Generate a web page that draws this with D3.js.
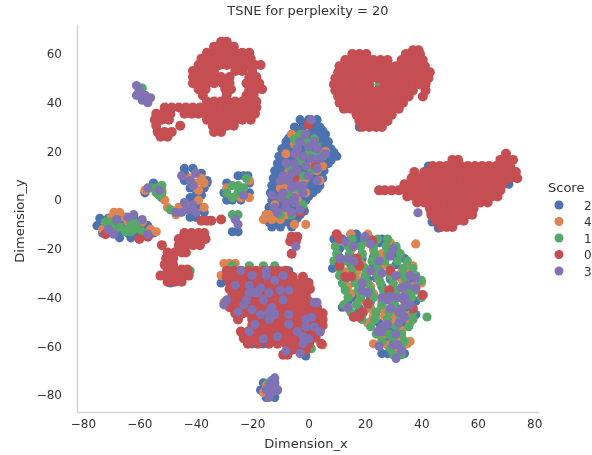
<!DOCTYPE html>
<html><head><meta charset="utf-8">
<script src="https://cdnjs.cloudflare.com/ajax/libs/d3/7.8.5/d3.min.js"></script>
<style>html,body{margin:0;padding:0;background:#fff;overflow:hidden}svg{display:block;filter:blur(0.45px)}text{font-family:"DejaVu Sans",sans-serif;fill:#333}</style>
</head><body><div id="chart"></div>
<script>
const legendOrder = ["2","4","1","0","3"];
const colors = ["#4c72b0","#dd8452","#55a868","#c44e52","#8172b3"];
const xTicks = [-80,-60,-40,-20,0,20,40,60,80];
const yTicks = [-80,-60,-40,-20,0,20,40,60];

// Each row: [y, [x, x, ...]]
const score2Rows = [
 [33,[-3,0,3]],[31.5,[-1.5,1.5]],[30,[-5,-2,1,4]],[28.5,[-3.5,2.5,5]],[27,[-6,-3,0,3,6]],[25.5,[-7,-4,-1,2,5]],[24,[-8,-5,-2,1,4,7]],[22.5,[-8,-5,-2,1,4,6.5]],[21,[-9.5,-6.5,-3.5,-.5,2.5,5.5,8]],[19.5,[-9,-6,-3,0,3,6,9]],[18,[-10.5,-7.5,-4.5,-1.5,1.5,4.5,7.5,10]],[16.5,[-10,-7,-4,-1,2,5,8]],[15,[-11,-8,-5,-2,1,4,7]],[13.5,[-10,-7,-4,-1,2,5]],[12,[-12,-9,-6,-3,0,3,5.5]],[10.5,[-11,-8,-5,-2,1,4]],[9,[-12.5,-9.5,-6.5,-3.5,-.5,2.5,5]],[7.5,[-11,-8,-5,-2,1,3.5]],[6,[-13,-10,-7,-4,-1,2,4]],[4.5,[-12,-9,-6,-3,0,3]],[3,[-13.5,-10.5,-7.5,-4.5,-1.5,1.5]],[1.5,[-12,-9,-6,-3,0]],[0,[-13,-10,-7,-4,-1]],[-1.5,[-12,-9,-6,-3]],[-3,[-14,-11,-8,-5,-2]],[-4.5,[-13,-10,-7,-4,-1.5]],[-6,[-15,-12,-9,-6,-3]],[-7.5,[-13,-10,-7,-4]],[-9,[-14,-11,-8,-5]],[-11,[-13,-10,-6]],
 [-7.5,[-74,-71,-65,-68,-62]],[-10.5,[-75,-72,-66,-60,-69,-63,-57]],[-13.5,[-73,-70,-64,-58,-55,-67,-61]],[-15.5,[-67,-63,-60]],
 [13,[-44,-41]],[11,[-44,-38]],[8,[-44,-36]],[5,[-42,-37]],[2,[-40,-38]],[-2,[-39]],[1,[-42]],[-5,[-40,-37]],[-7,[-42,-40]],
 [10,[-25,-23,-21.5]],[7,[-21,-29]],[3,[-30,-21]],[0,[-29,-27,-24]],[-13,[-25,-27]],
 [-14,[15,17]],[-16,[9,12,15,18,22,26]],[-20,[28,31,11]],[-24,[14,19,34]],[-28,[8.5,25,36]],[-32,[20,24,29]],[-36,[13,33,38]],[-40,[16,22]],[-44,[12,26,30]],[-50,[35,22]],[-54,[32,27]],[-58,[27,33]],[-63,[26,28,31,34]],[-47,[38,17]],
 [-17.5,[17,25]],[-23.5,[11,23,31]],[-26.5,[15,23,31]],[-32.5,[13,21,29,37]],[-35.5,[18,26,34]],[-41.5,[14,22,30,38]],[-44.5,[18,34]],[-50.5,[25,33]],[-53.5,[29]],[-56.5,[30]],[-59.5,[32]],[-62.5,[29]],
 [-29,[-29,-25,-12,-9,-7]],[-34,[-31]],[-59,[-20,-16,-4]],[-64,[-1]],[-47,[-15]],[-55,[-12]],
 [-78,[-17,-15,-11]],[-75,[-16,-12]],[-81,[-15,-12]]
];
const score2Extra = [[-58,43],[-49,-34],[18,30],[35.5,43],[40,1],[42.5,14],[71,6.5],[43.8,-9],[46,-11.5],[-55,7],[-58,3],[-52,1],[-44,-3],[-36,7]];

const score4Rows = [
 [27,[-6,-2]],[25,[2]],[23,[-5,0]],[20,[6]],[19,[-8,3]],[17,[-3]],[14,[5,1]],[12,[-7,3]],[9,[-1]],[8,[4,-3]],[6,[-6]],[5,[-10,-8]],[3,[-5,-1]],[0,[-4]],[-2,[-12,-3]],[-4,[-8]],[-6,[-15,-14,-8]],[-8,[-16,-13,-10]],[-10,[-5,-1]],
 [-5,[-69,-67]],[-7,[-70,-65]],[-9,[-64,-59]],[-12,[-73,-71,-62,-56]],[-13,[-54,-69]],
 [9,[-42,-38]],[7,[-40,-37]],[4,[-39]],[0,[-39]],[-3,[-50,-46,-37]],[-6,[-47]],
 [8,[-21]],[5,[-29]],[1,[-24,-21]],
 [-26,[-30,-28,-26]],[-31,[-31]],[-37,[-24]],[-42,[-30]],[-55,[-14,-9]],[-57,[-23]],[-48,[-3]],[-52,[2]],[-59.5,[5]],
 [-79,[-16]],[-76,[-15]],
 [-14,[21,15]],[-18,[14,38]],[-22,[26,19]],[-27,[37]],[-28,[20]],[-30,[35,24]],[-34,[17,40]],[-40,[29]],[-47,[19]],[-48,[24,30]],[-55,[26]],[-58,[36]],[-59,[23,35]],
 [-17.5,[13,21,29]],[-20.5,[15,23]],[-23.5,[15,27]],[-26.5,[11,19,27,35]],[-29.5,[13,17,21,29,33]],[-32.5,[17,25,33]],[-35.5,[14,22,30,37]],[-38.5,[15,19,23,27,31,35]],[-41.5,[18,26,34]],[-44.5,[14,22,26,30]],[-47.5,[23,27,35]],[-50.5,[21,29,36]],[-53.5,[25,33]],[-56.5,[26,33]],[-59.5,[28]],[-62.5,[32]]
];
const score4Extra = [[9.5,47.8],[41.5,55],[13.6,37.5],[50,-1],[-58,4],[-51,0],[-52,4]];

const score1Rows = [
 [27,[-3]],[25,[-5,2]],[24,[-1]],[22,[-4,3]],[19,[0]],[18,[3,5]],[16,[-3]],[14,[-7]],[12,[1]],[10,[-2]],[5,[-4]],[2,[-7]],[-2,[-2]],[-6,[-10,-6]],
 [-9,[-72,-70,-62]],[-11,[-67,-61,-70]],[-13,[-65,-63,-59,-69]],[-12,[-64,-62]],[-10,[-63]],
 [5,[-54,-56]],[3,[-54,-52]],[2,[-53]],[6,[-52]],
 [-4,[-49]],[6,[-25,-27]],[5,[-23]],[9,[-22]],[3,[-25,-29]],[1,[-27]],[-6,[-27,-25]],
 [-27,[-27,-21,-16,-12]],[-35,[-22]],[-37,[-13]],[-48,[-19]],[-47,[-11]],[-42,[-2]],[-34,[0]],[-50,[4,-7]],[-53,[-15]],[-56,[-21,-20]],[-61,[1]],
 [-16,[11,15.5,20,24.5,28]],[-19,[9.5,14,18.5,23,27.5,31]],[-22,[10,14.5,19,23.5,28,32.5]],[-25,[9,13.5,18,22.5,27,31.5,35]],[-28,[11,15.5,20,24.5,29,33.5,37]],[-31,[11,15.5,20,24.5,29,33.5,38]],[-34,[12,16.5,21,25.5,30,34.5]],[-37,[13,17.5,22,26.5,31,35.5,38]],[-40,[14,18.5,23,27.5,32,36.5,40]],[-43,[12.5,17,21.5,26,30.5,35]],[-46,[15,19.5,24,28.5,33,37]],[-49,[19,23.5,28,32.5,37]],[-52,[22,26.5,31,35.5]],[-55,[24,28.5,33]],[-58,[26,30,34]],[-61,[29,33]],[-63.5,[30,33]],
 [-33,[40]],[-48,[42]]
];
const score1Extra = [[-59,46],[-42,-29],[-14,-75],[25,47.5],[43.8,-2.5]];

const score0Rows = [
 // upper-left mass
 [65,[-31,-29]],[63,[-33.5,-31,-28.5,-26.5]],[60.5,[-36,-33.5,-31,-28.5,-26,-23.5,-21]],[58,[-38,-35.5,-33,-30.5,-28,-25.5,-23,-20.5]],[55.5,[-39,-36.5,-34,-31.5,-29,-26.5,-24,-21.5,-19,-17]],[53,[-41,-38.5,-36,-33.5,-26,-23.5,-20]],[50.5,[-41,-38.5,-36,-33.5,-31,-28,-21,-18.5]],[48,[-41,-38.5,-36,-33.5,-30.5,-28,-22,-19.5,-17.5]],[45.5,[-39,-36.5,-29.5,-27.5,-21,-18.5,-16.5]],[43,[-37.5,-29,-22,-19.5]],[40.5,[-36,-33.5,-31,-28.5,-26,-23.5,-21,-18.5]],[38,[-51,-48.5,-46,-43.5,-41,-38.5,-36,-33.5,-31,-28.5,-26,-23.5,-21,-18.5]],[35.5,[-54,-51.5,-49,-44,-41.5,-39,-36.5,-34,-31.5,-29,-26.5,-24,-21.5,-19]],[33,[-54.5,-52,-49.5,-36,-33.5,-31,-28.5,-26,-23.5,-20.5]],[30.5,[-54,-45.5,-34,-31.5,-29,-26.5]],[28,[-53.5,-51,-48.5,-33.5,-31]],[26,[-52.5,-50]],
 // upper-right heart
 [61.5,[37,39]],[60,[15.5,18,20.5,34.5,37,39.5]],[57.5,[13,15.5,18,20.5,23,25.5,28,33,35.5,38,40.5]],[55,[11,13.5,16,18.5,21,23.5,26,28.5,31,33.5,36,38.5,41]],[52.5,[10.5,13,15.5,18,20.5,23,25.5,28,30.5,33,35.5,38,40.5,43]],[50,[9.5,12,14.5,17,19.5,22,24.5,27,29.5,32,34.5,37,39.5,42.5]],[47.5,[9,11.5,14,16.5,19,21.5,27,29.5,32,34.5,37,39.5,41.5]],[45,[9.5,12,14.5,17,19.5,22,24.5,27,29.5,32,34.5,37,41.5]],[42.5,[10.5,13,15.5,18,20.5,23,25.5,28,30.5,33,35.5,40.5]],[40,[11,13.5,16,18.5,21,23.5,26,28.5,31,33.5]],[37.5,[12.5,15,17.5,20,22.5,25,27.5,30,32]],[35,[17,19.5,22,24.5,27,29.5]],[32.5,[18,20.5,23,25.5,28]],[30,[19,21.5,24,26]],
 // right mass
 [19,[70]],[16.5,[51,53,68,70.5,72.5]],[14,[44,46.5,49,51.5,54,56.5,59,61.5,64,66.5,69,71.5]],[11.5,[37.5,41,43.5,46,48.5,51,53.5,56,58.5,61,63.5,66,68.5,71,73.5]],[9,[36.5,39,41.5,44,46.5,49,51.5,54,56.5,59,61.5,64,66.5,69,71.5,74]],[6.5,[34,36.5,39,41.5,44,46.5,49,51.5,54,56.5,59,61.5,64,66.5,69]],[4,[25,27,29.5,32,34.5,37,39.5,42,44.5,47,49.5,52,54.5,57,59.5,62,64.5,67,68]],[1.5,[35,37.5,40,42.5,45,47.5,50,52.5,55,57.5,60,62.5,65,67]],[-1,[38.5,41,43.5,46,48.5,51,53.5,56,58.5,61,63.5]],[-3.5,[43,45.5,48,50.5,53,55.5,58.5]],[-6,[43.5,46,48.5,51,53.5,56,58]],[-8.5,[45,47.5,50,52.5,55]],[-11,[47,49,51]],
 // lower-left column
 [-8.5,[-38,-36,-34.5]],[-13.5,[-44,-41.5,-39,-37]],[-16,[-46,-43.5,-41,-38.5,-36.5]],[-18.5,[-52,-46,-43.5,-41,-38.5]],[-21.5,[-50,-47.5,-45,-43.5]],[-24,[-50.5,-48]],[-26.5,[-51,-48]],[-28.5,[-50,-47.5,-45,-43]],[-31,[-52.5,-50,-47.5,-45,-42.5]],[-33.5,[-50,-47.5,-45]],
 // lower mass
 [-29,[-29,-26.4,-23.8,-21.2,-18.6,-16,-13.4,-10.8,-8]],[-31.5,[-29,-26.4,-23.8,-21.2,-18.6,-16,-13.4,-10.8,-8.2,-5.6,-2]],[-34,[-28,-25.4,-22.8,-20.2,-17.6,-15,-12.4,-9.8,-7.2,-4.6,-2,0]],[-36.5,[-28,-25.4,-22.8,-20.2,-17.6,-15,-12.4,-9.8,-7.2,-4.6,-2,0.5]],[-39,[-27,-24.4,-21.8,-19.2,-16.6,-14,-11.4,-8.8,-6.2,-3.6,-1]],[-41.5,[-29,-26.4,-23.8,-21.2,-18.6,-16,-13.4,-10.8,-8.2,-5.6,-3,0]],[-44,[-28,-25.4,-22.8,-20.2,-17.6,-15,-12.4,-9.8,-7.2,-4.6,-2,1,3]],[-46.5,[-26,-23.4,-20.8,-18.2,-15.6,-13,-10.4,-7.8,-5.2,-2.6,0,2.6,5]],[-49,[-25,-20,-17.4,-14.8,-12.2,-9.6,-7,-4.4,-1.8,0.8,3.4,5]],[-51.5,[-20,-17.4,-14.8,-12.2,-9.6,-7,-4.4,-1.8,0.8,3.4,5]],[-54,[-24,-21.4,-18.8,-16.2,-13.6,-11,-8.4,-5.8,-3.2,-0.6,2,4]],[-56.5,[-23,-20.4,-17.8,-15.2,-12.6,-10,-7.4,-4.8,-2.2,0.4,2.5]],[-59,[-21.5,-18,-14,-11,-8,-5,-2.4,0.2]],[-61.5,[-6,-3.5,-1]],[-63.5,[-9,-7.5]],
 // right-lower scattered
 [-16.7,[22.5]],[-14,[10]],[-16,[11]],[-24,[17]],[-27,[11,18]],[-29,[29]],[-31.5,[13,15]],[-37,[28.6]],[-39,[40.5]],[-42.5,[21]],[-44.5,[37]],[-48,[18,16]],[-46,[19]],
 [-15,[-6,-4]],[-17,[-6.5,-4.5]],[-22,[-6]]
];
const score0Extra = [[-31,-8],[-72,-14],[-60,-16],[-57,-15],[4.5,-59],[0,31],[2.5,14],[-5,9],[-3,-5]];

const score3Rows = [
 [33,[1]],[27,[-1]],[24,[2,-3]],[22,[0]],[21,[-4,3]],[19,[-5,6]],[18,[-2]],[17,[1,4]],[15,[-5,-8]],[14,[-1]],[13,[3]],[12,[-4]],[11,[-6]],[10,[0,-9]],[8,[-7,-10,3]],[6,[-2,-4]],[5,[-6]],[3,[-2,-9]],[2,[-13]],[1,[-10,-5]],[-1,[-8,-5]],[-3,[-8,-12]],[-4,[-3]],[-5,[-11,-6]],
 [47,[-61]],[45,[-60]],[43,[-61,-58]],[41,[-59]],[42,[-56]],[40,[-57]],
 [-8,[-68,-59]],[-7,[-64]],[-6,[-62]],[-12,[-71]],[-14,[-57,-69]],
 [4,[-53]],[5,[-57]],[10,[-45]],[8,[-42]],[11,[-40]],[6,[-41]],[-5,[-47,-45,-40]],[-4,[-43]],[-2,[-41]],[-1,[-44]],
 [2,[-23]],[-8,[-26]],[-10,[-25]],[-19,[-4.5]],
 [-29,[-24,-15]],[-31,[-20,-15,-9]],[-33,[-12]],[-35,[-26,-21]],[-36,[-17]],[-37,[-10,-7]],[-38,[-18,-14,-19,-21]],[-41,[-29,-22,-16,-9]],[-43,[-30,-23]],[-44,[-13]],[-45,[-20]],[-46,[-25,-14]],[-47,[-17,-12,-7]],[-49,[-1,-14]],[-51,[-7,-19]],[-52,[-1,2]],[-54,[-21,-4,4]],[-56,[-11,-2]],[-57,[-16,0]],[-59,[-2]],[-62,[-8]],[-63,[-3]],[-42,[3,2]],[-48,[1]],
 [-73,[-12]],[-74,[-13]],[-76,[-14,-12]],[-78,[-15,-11,-13]],[-79,[-13]],[-81,[-14]],
 [-15,[20]],[-17,[13]],[-18,[22]],[-19,[16]],[-20,[30]],[-23,[29]],[-24,[11,14]],[-25,[16,25]],[-29,[22]],[-30,[26]],[-31,[31,36]],[-32,[38]],[-34,[19]],[-35,[35]],[-36,[33,38]],[-37,[19]],[-38,[21]],[-39.5,[28.7,34]],[-40,[26,31]],[-41,[28,34]],[-43,[36]],[-44.5,[33,29]],[-44,[14]],[-46,[32]],[-48,[34]],[-50.5,[32]],[-51,[28]],[-52,[26]],[-54,[24.6,26]],[-55,[31]],[-59.5,[31.6,30]],[-60,[25]],[-62,[33]],[-65,[31]]
];
const score3Extra = [[38.8,-5.2]];

const flatten = rows => rows.flatMap(([yv,xs])=>xs.map(xv=>[xv,yv]));
const seriesList = [
  flatten(score2Rows).concat(score2Extra),
  flatten(score4Rows).concat(score4Extra),
  flatten(score1Rows).concat(score1Extra),
  flatten(score0Rows).concat(score0Extra),
  flatten(score3Rows).concat(score3Extra)
];
const radii = [4.6,4.6,4.6,5,4.6];

const margin = {left:77, right:539, top:24, bottom:412};
const x = d3.scaleLinear().domain([-82.1,81.7]).range([margin.left, margin.right]);
const y = d3.scaleLinear().domain([-87,72.3]).range([margin.bottom, margin.top]);
const svg = d3.select("#chart").append("svg").attr("width",592).attr("height",455);

seriesList.forEach((pts,i)=>{
  svg.append("g").selectAll("circle").data(pts).join("circle")
    .attr("cx",d=>x(d[0])).attr("cy",d=>y(d[1])).attr("r",radii[i]).attr("fill",colors[i]);
});

const gx = svg.append("g").attr("transform",`translate(0,${margin.bottom})`)
  .call(d3.axisBottom(x).tickValues(xTicks).tickSize(0).tickPadding(7));
const gy = svg.append("g").attr("transform",`translate(${margin.left},0)`)
  .call(d3.axisLeft(y).tickValues(yTicks).tickSize(0).tickPadding(15));
[gx,gy].forEach(g=>{
  g.selectAll("text").attr("font-size",12).style('font-family','"DejaVu Sans",sans-serif');
  g.select(".domain").attr("stroke","#d4d4d4").attr("stroke-width",1.6);
});
svg.append("text").attr("x",308).attr("y",15).attr("text-anchor","middle").attr("font-size",13).text("TSNE for perplexity = 20");
svg.append("text").attr("x",306).attr("y",448).attr("text-anchor","middle").attr("font-size",13).text("Dimension_x");
svg.append("text").attr("transform","translate(24,221) rotate(-90)").attr("text-anchor","middle").attr("font-size",13).text("Dimension_y");
svg.append("text").attr("x",548).attr("y",192).attr("font-size",13).text("Score");
const legY = d3.scalePoint().domain(legendOrder).range([205,271]);
const leg = svg.append("g").selectAll("g").data(legendOrder).join("g").attr("transform",d=>`translate(0,${legY(d)})`);
leg.append("circle").attr("cx",559).attr("r",4.5).attr("fill",(d,i)=>colors[i]);
leg.append("text").attr("x",584).attr("y",4.5).attr("font-size",12).text(d=>d);
</script></body></html>
